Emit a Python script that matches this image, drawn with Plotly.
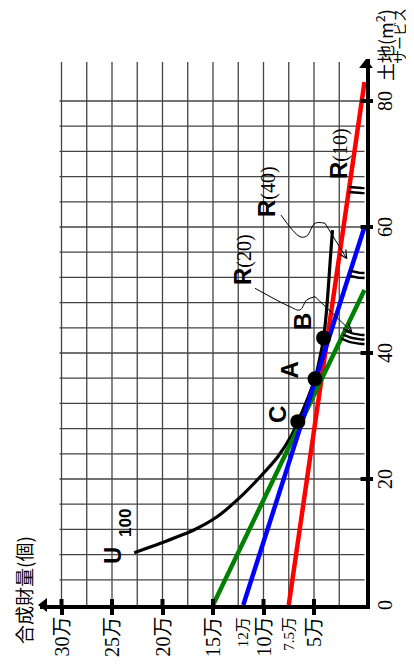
import numpy as np
import plotly.graph_objects as go

# ---------------- data ----------------
red_land = [0, 83]
red_val = [7.5, 0]
blue_land = [0, 60]
blue_val = [12, 0]
green_land = [0, 50]
green_val = [15, 0]

u100_land = [8.3, 9.8, 11.9, 14.0, 17.2, 20.4, 23.5, 26.7, 29.1, 32.5, 35.9, 39.0, 42.4, 46.0, 50.0, 55.0, 59.5]
u100_val = [22.8, 20.2, 16.9, 14.6, 12.25, 10.3, 8.6, 7.3, 6.6, 5.7, 4.9, 4.45, 4.05, 3.8, 3.6, 3.38, 3.17]

point_names = ["A", "B", "C"]
point_land = [35.9, 42.4, 29.1]
point_val = [4.9, 4.05, 6.6]

val_tick_vals = [5, 10, 15, 20, 25, 30]
val_tick_text = ["5万", "10万", "15万", "20万", "25万", "30万"]
val_small_vals = [7.5, 12]
val_small_text = ["7.5万", "12万"]
land_tick_vals = [0, 20, 40, 60, 80]
land_tick_text = ["0", "20", "40", "60", "80"]
land_mark_vals = [20, 40, 60, 80]

grid_val = [2.5, 5, 7.5, 10, 12.5, 15, 17.5, 20, 22.5, 25, 27.5, 30]
grid_land = [4, 8, 12, 16, 20, 24, 28, 32, 36, 40, 44, 48, 52, 56, 60, 64, 68, 72, 76, 80]

# leader lines (value, land)
r40_wave_val = [8.27, 6.39, 5.72, 4.90, 3.91]
r40_wave_land = [61.9, 58.46, 58.57, 60.59, 60.59]
r40_tip = (1.76, 55.0)
r20_wave_val = [10.84, 7.38, 6.39, 5.72, 4.90]
r20_wave_land = [50.27, 47.35, 46.83, 48.41, 48.94]
r20_tip = (1.27, 43.4)

# ---------------- geometry (screen pixels; page body has an 8px margin) ----------------
SW, SH = 414, 665
OFF = 8
W, H = SW - OFF, SH - OFF
PL, PR, PT, PB = 40, 366, 59, 605     # plot area edges on screen
ML, MR, MT, MB = PL - OFF, SW - PR, PT - OFF, SH - PB
X0 = 364.5      # screen px of value 0
PXV = 10.1      # px per 1万
PYL = 6.3       # px per land unit
YB = PB         # screen px of land 0
v_left = (X0 - PL) / PXV
v_right = (X0 - PR) / PXV
land_top = (YB - PT) / PYL
PW = PR - PL
PH = PB - PT


def px2v(px):
    return (X0 - px) / PXV


def py2l(py):
    return (YB - py) / PYL


def v2px(v):
    return X0 - PXV * v


def l2py(l):
    return YB - PYL * l


def paper_x(px):
    return (px - PL) / PW


def paper_y(py):
    return (PB - py) / PH


fig = go.Figure()

# grid
shapes = []
for g in grid_val:
    shapes.append(dict(type="line", xref="x", yref="y", x0=g, x1=g, y0=0, y1=86.2,
                       line=dict(color="#444", width=1.3), layer="below"))
for g in grid_land:
    shapes.append(dict(type="line", xref="x", yref="y", x0=0, x1=30.2, y0=g, y1=g,
                       line=dict(color="#444", width=1.3), layer="below"))
# inside halves of tick marks
for t in val_tick_vals:
    shapes.append(dict(type="line", xref="x", yref="y", x0=t, x1=t, y0=0, y1=0.95,
                       line=dict(color="black", width=4)))
for t in land_mark_vals:
    shapes.append(dict(type="line", xref="x", yref="y", x0=v_right, x1=px2v(360.5), y0=t, y1=t,
                       line=dict(color="black", width=4)))

# U100 curve
fig.add_trace(go.Scatter(x=u100_val, y=u100_land, mode="lines",
                         line=dict(color="black", width=3.2, shape="spline", smoothing=0.8),
                         hoverinfo="skip"))
# budget lines
for lv, ll, col in [(red_val, red_land, "#ff0000"), (green_val, green_land, "#008000"),
                    (blue_val, blue_land, "#0000ff")]:
    fig.add_trace(go.Scatter(x=lv, y=ll, mode="lines", line=dict(color=col, width=4.5),
                             hoverinfo="skip"))

# points
fig.add_trace(go.Scatter(x=point_val, y=point_land, mode="markers",
                         marker=dict(color="black", size=15), hoverinfo="skip"))

# angle marks (arcs between each line and the land axis)
arc_specs = [(red_land, red_val, [106, 111]), (blue_land, blue_val, [46, 51]),
             (green_land, green_val, [45, 49.5, 54])]
for ll, lv, radii in arc_specs:
    vx, vy = v2px(0), l2py(ll[1])
    fx, fy = v2px(lv[0]), l2py(ll[0])
    a1 = np.arctan2(fy - vy, fx - vx)
    a2 = np.pi / 2
    for r in radii:
        t = np.linspace(a1, a2, 12)
        xs = vx + r * np.cos(t)
        ys = vy + r * np.sin(t)
        fig.add_trace(go.Scatter(x=px2v(xs), y=py2l(ys), mode="lines",
                                 line=dict(color="black", width=2.4), hoverinfo="skip"))

# leader wave lines + straight arrow shafts + open arrow heads
for wv, wl, tip in [(r40_wave_val, r40_wave_land, r40_tip), (r20_wave_val, r20_wave_land, r20_tip)]:
    fig.add_trace(go.Scatter(x=wv, y=wl, mode="lines",
                             line=dict(color="black", width=1, shape="spline", smoothing=1.0),
                             hoverinfo="skip"))
    fig.add_trace(go.Scatter(x=[wv[-1], tip[0]], y=[wl[-1], tip[1]], mode="lines",
                             line=dict(color="black", width=1), hoverinfo="skip"))
    sx, sy = v2px(wv[-1]), l2py(wl[-1])
    tx, ty = v2px(tip[0]), l2py(tip[1])
    ang = np.arctan2(sy - ty, sx - tx)
    hx, hy = [], []
    for d in (0.45, -0.45):
        hx += [tx + 9 * np.cos(ang + d), tx, None]
        hy += [ty + 9 * np.sin(ang + d), ty, None]
    fig.add_trace(go.Scatter(x=[px2v(a) if a is not None else None for a in hx],
                             y=[py2l(b) if b is not None else None for b in hy],
                             mode="lines", line=dict(color="black", width=1.2),
                             hoverinfo="skip"))

# axis arrow heads
fig.add_trace(go.Scatter(x=[px2v(44)], y=[0], mode="markers", cliponaxis=False,
                         marker=dict(symbol="triangle-left", size=12, color="black"),
                         hoverinfo="skip"))
fig.add_trace(go.Scatter(x=[v_right], y=[py2l(65)], mode="markers", cliponaxis=False,
                         marker=dict(symbol="triangle-up", size=12, color="black"),
                         hoverinfo="skip"))

annotations = []
SERIF = "Liberation Serif, Noto Sans CJK JP"
SANS = "Liberation Sans, Arial, sans-serif"
CJK = "Noto Sans CJK JP"

# value-axis tick labels
for v, t in zip(val_tick_vals, val_tick_text):
    annotations.append(dict(x=v, y=paper_y(615), xref="x", yref="paper", text=t,
                            textangle=-90, showarrow=False, xanchor="center", yanchor="top",
                            font=dict(family=SERIF, size=20, color="black")))
for v, t in zip(val_small_vals, val_small_text):
    annotations.append(dict(x=v, y=paper_y(615), xref="x", yref="paper", text=t,
                            textangle=-90, showarrow=False, xanchor="center", yanchor="top",
                            font=dict(family=SERIF, size=15, color="black")))
# land-axis tick labels
for l, t in zip(land_tick_vals, land_tick_text):
    annotations.append(dict(x=paper_x(385), y=l, xref="paper", yref="y", text=t,
                            textangle=-90, showarrow=False, xanchor="center", yanchor="middle",
                            font=dict(family=SERIF, size=20, color="black")))


def label(px, py, text, size, family):
    annotations.append(dict(x=paper_x(px), y=paper_y(py), xref="paper", yref="paper",
                            text=text, textangle=-90, showarrow=False,
                            xanchor="center", yanchor="middle", borderpad=0,
                            font=dict(family=family, size=size, color="black")))


label(23, 590, "合成財量(個)", 19, CJK)
label(384, 45, "土地(m<sup>2</sup>)", 18, CJK)
label(399, 36, "サービス", 14, CJK)

for name, px, py in [("A", 288.5, 370), ("B", 302, 322), ("C", 277, 415)]:
    label(px, py, "<b>%s</b>" % name, 24, SANS)
label(112, 556, "<b>U</b>", 24, SANS)
label(125, 523, "<b>100</b>", 17, SANS)


def rtext(n):
    return ("<span style='font-family:Liberation Sans;font-size:24px'><b>R</b></span>"
            "<span style='font-family:Liberation Serif;font-size:20px'>(%s)</span>" % n)


label(266, 192, rtext("40"), 20, SERIF)
label(242, 260, rtext("20"), 20, SERIF)
label(338, 154, rtext("10"), 20, SERIF)

fig.update_layout(
    width=W, height=H,
    margin=dict(l=ML, r=MR, t=MT, b=MB, pad=0),
    paper_bgcolor="white", plot_bgcolor="white",
    showlegend=False,
    shapes=shapes,
    annotations=annotations,
    xaxis=dict(range=[v_left, v_right], showgrid=False, zeroline=False, showline=True,
               linecolor="black", linewidth=4, tickmode="array", tickvals=val_tick_vals,
               ticks="outside", ticklen=6, tickwidth=4, tickcolor="black",
               showticklabels=False, fixedrange=True),
    yaxis=dict(range=[0, land_top], side="right", showgrid=False, zeroline=False,
               showline=True, linecolor="black", linewidth=4, tickmode="array",
               tickvals=land_mark_vals, ticks="outside",
               ticklen=3, tickwidth=4, tickcolor="black",
               showticklabels=False, fixedrange=True),
)

fig.write_html("out.html")
